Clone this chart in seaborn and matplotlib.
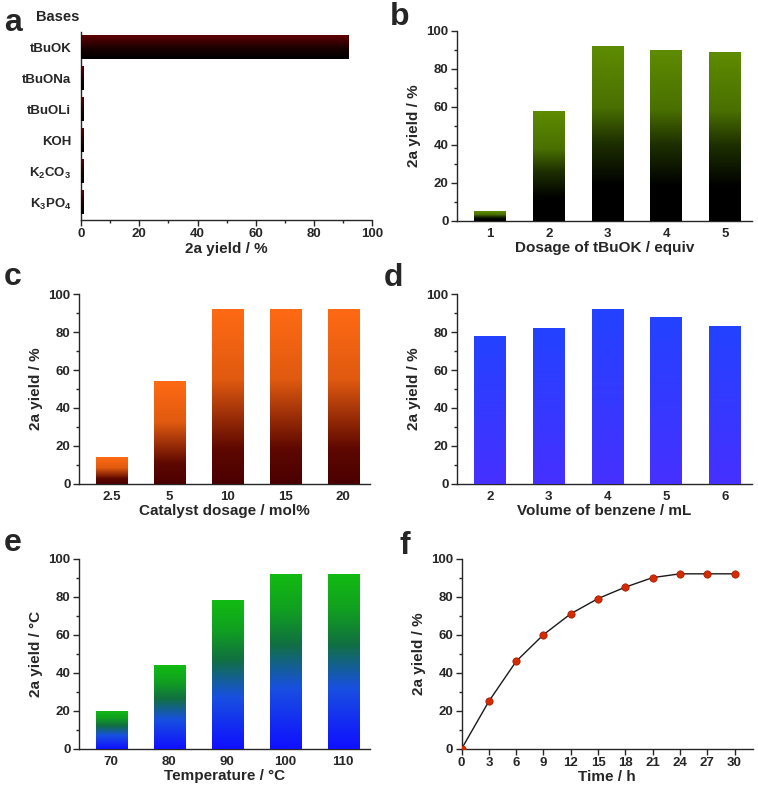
import numpy as np
import pandas as pd
import matplotlib
matplotlib.use("Agg")
import matplotlib.pyplot as plt
import seaborn as sns
from matplotlib.colors import LinearSegmentedColormap
from matplotlib.ticker import MultipleLocator

# data
bases = ["tBuOK", "tBuONa", "tBuOLi", "KOH", r"K$_2$CO$_3$", r"K$_3$PO$_4$"]
base_yield = [92, 1, 1, 1, 1, 1]

tbuok_equiv = ["1", "2", "3", "4", "5"]
tbuok_yield = [5, 58, 92, 90, 89]

cat_dosage = ["2.5", "5", "10", "15", "20"]
cat_yield = [14, 54, 92, 92, 92]

benzene_ml = ["2", "3", "4", "5", "6"]
benzene_yield = [78, 82, 92, 88, 83]

temperature = ["70", "80", "90", "100", "110"]
temp_yield = [20, 44, 78, 92, 92]

time_h = [0, 3, 6, 9, 12, 15, 18, 21, 24, 27, 30]
time_yield = [0, 25, 46, 60, 71, 79, 85, 90, 92, 92, 92]

sns.set_theme(style="ticks")
plt.rcParams["font.family"] = ["Liberation Sans", "DejaVu Sans"]
plt.rcParams["font.weight"] = "bold"
plt.rcParams["axes.labelweight"] = "bold"
plt.rcParams["mathtext.default"] = "regular"
plt.rcParams["axes.linewidth"] = 1.0

TICK = 9.5
LAB = 11
W, H = 758, 789


def gradient_bars(ax, stops, colors, horizontal=False):
    # paint each bar with a vertical gradient clipped to the bar shape
    cmap = LinearSegmentedColormap.from_list("g", list(zip(stops, colors)))
    grad = np.linspace(0, 1, 256).reshape(-1, 1)
    for p in list(ax.patches):
        x0, y0 = p.get_x(), p.get_y()
        w, h = p.get_width(), p.get_height()
        if horizontal:
            ext = [x0, x0 + w, y0 + h, y0]   # y axis inverted
        else:
            ext = [x0, x0 + w, y0, y0 + h]
        im = ax.imshow(grad, cmap=cmap, extent=ext, origin="lower",
                       aspect="auto", zorder=3, interpolation="bilinear")
        im.set_clip_path(p)
        p.set_facecolor("none")
        p.set_edgecolor("none")


def style(ax, ylabel=None, xlabel=None):
    sns.despine(ax=ax)
    ax.tick_params(direction="out", length=4, width=1, labelsize=TICK, pad=2)
    ax.tick_params(which="minor", direction="out", length=2, width=1)
    for t in ax.get_xticklabels() + ax.get_yticklabels():
        t.set_fontweight("bold")
    if ylabel:
        ax.set_ylabel(ylabel, fontsize=LAB, fontweight="bold", labelpad=4)
    if xlabel:
        ax.set_xlabel(xlabel, fontsize=LAB, fontweight="bold", labelpad=1)


def bar_panel(ax, cats, vals, stops, colors, xlabel, ylabel):
    df = pd.DataFrame({"x": cats, "y": vals})
    sns.barplot(data=df, x="x", y="y", ax=ax, width=0.54, color="k", saturation=1)
    gradient_bars(ax, stops, colors)
    ax.set_xlim(-0.56, 4.46)
    ax.set_ylim(0, 100)
    ax.yaxis.set_major_locator(MultipleLocator(20))
    ax.yaxis.set_minor_locator(MultipleLocator(10))
    style(ax, ylabel, xlabel)
    ax.tick_params(axis="x", length=0, pad=5)


fig = plt.figure(figsize=(7.58, 7.89), dpi=100)
ax_a = fig.add_axes([0.107, 0.721, 0.384, 0.238])
ax_b = fig.add_axes([0.603, 0.720, 0.389, 0.241])
ax_c = fig.add_axes([0.104, 0.387, 0.384, 0.240])
ax_d = fig.add_axes([0.603, 0.387, 0.389, 0.240])
ax_e = fig.add_axes([0.104, 0.051, 0.384, 0.241])
ax_f = fig.add_axes([0.609, 0.051, 0.384, 0.241])

# a: bases (horizontal)
df_a = pd.DataFrame({"base": bases, "y": base_yield})
sns.barplot(data=df_a, x="y", y="base", orient="h", ax=ax_a, width=0.77,
            color="k", saturation=1)
gradient_bars(ax_a, [0, 0.45, 1], ["#000000", "#1a0000", "#600000"], horizontal=True)
ax_a.set_xlim(0, 100)
ax_a.set_ylim(5.58, -0.48)
ax_a.xaxis.set_major_locator(MultipleLocator(20))
ax_a.xaxis.set_minor_locator(MultipleLocator(10))
style(ax_a, None, "2a yield / %")
ax_a.set_ylabel("")
ax_a.tick_params(axis="y", length=0, pad=7)
fig.text(58 / W, 1 - 21 / H, "Bases", fontsize=10.5, fontweight="bold",
         ha="center", va="baseline")

# b: tBuOK dosage
bar_panel(ax_b, tbuok_equiv, tbuok_yield, [0, 0.2, 0.45, 0.65, 1],
          ["#000000", "#000000", "#1e3000", "#4a7000", "#5e8c00"],
          "Dosage of tBuOK / equiv", "2a yield / %")

# c: catalyst dosage
bar_panel(ax_c, cat_dosage, cat_yield, [0, 0.2, 0.6, 1],
          ["#4a0000", "#5e0800", "#e05a10", "#ff6a14"],
          "Catalyst dosage / mol%", "2a yield / %")

# d: benzene volume
bar_panel(ax_d, benzene_ml, benzene_yield, [0, 1],
          ["#4630ff", "#2342ff"],
          "Volume of benzene / mL", "2a yield / %")

# e: temperature
bar_panel(ax_e, temperature, temp_yield, [0, 0.35, 0.6, 0.8, 1],
          ["#1010ff", "#1850e0", "#107040", "#10a020", "#12bb12"],
          "Temperature / \u00b0C", "2a yield / \u00b0C")

# f: time course
df_f = pd.DataFrame({"t": time_h, "y": time_yield})
sns.lineplot(data=df_f, x="t", y="y", ax=ax_f, color="k", lw=1.0)
sns.scatterplot(data=df_f, x="t", y="y", ax=ax_f, color="#d42a00", s=28,
                edgecolor="#a01800", linewidth=0.5, zorder=4)
ax_f.set_xlim(0, 32)
ax_f.set_ylim(0, 100)
ax_f.xaxis.set_major_locator(MultipleLocator(3))
ax_f.yaxis.set_major_locator(MultipleLocator(20))
ax_f.yaxis.set_minor_locator(MultipleLocator(10))
style(ax_f, "2a yield / %", "Time / h")

# panel letters (pixel positions of the baseline)
for letter, px, py in [("a", 4, 31), ("b", 390, 25), ("c", 4, 285),
                       ("d", 384, 286), ("e", 4, 551), ("f", 400, 554)]:
    fig.text(px / W, 1 - py / H, letter, fontsize=23, fontweight="bold",
             ha="left", va="baseline")

fig.savefig("out.png", dpi=100)
